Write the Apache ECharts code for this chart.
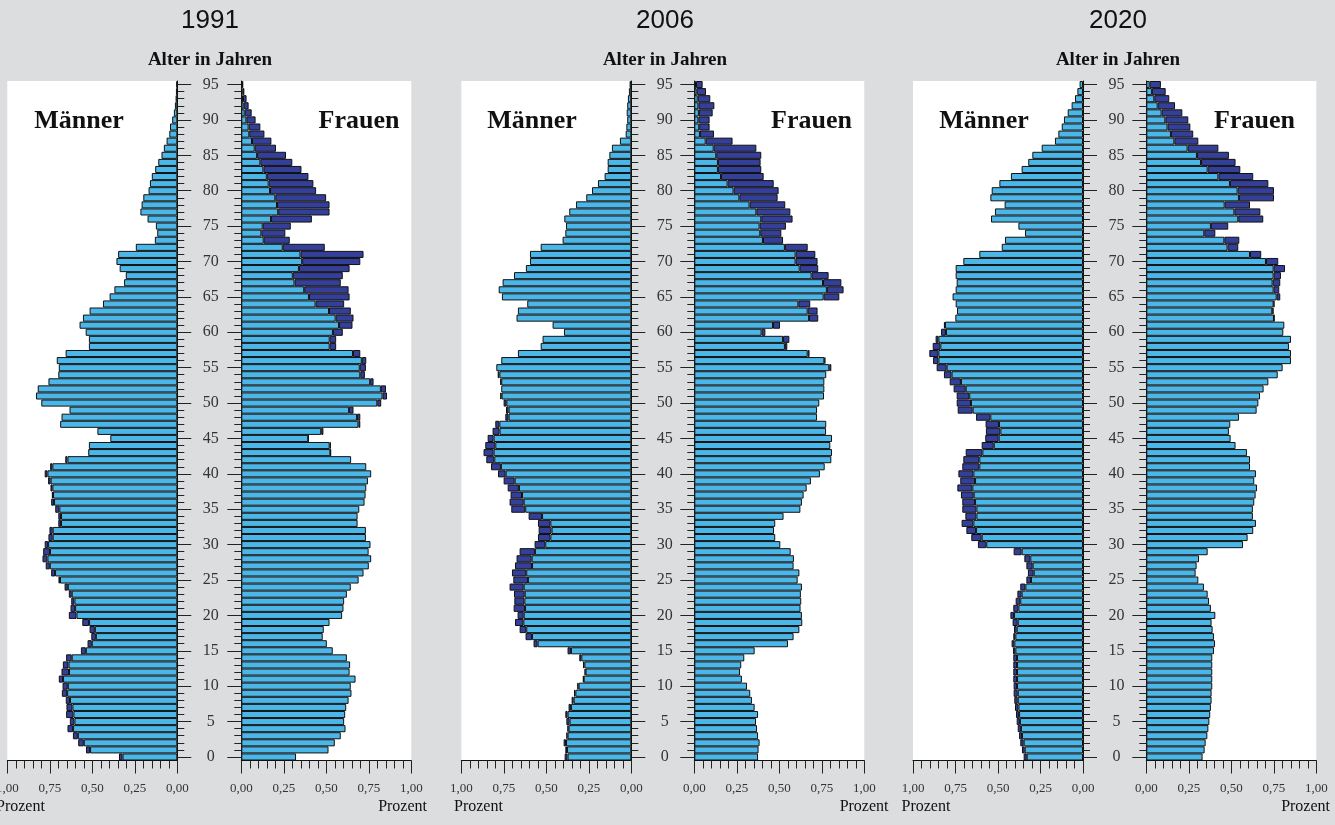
<!DOCTYPE html>
<html>
<head>
<meta charset="utf-8">
<title>Altersaufbau 1991, 2006, 2020</title>
<script src="https://cdn.jsdelivr.net/npm/echarts@6/dist/echarts.min.js"></script>
<style>
  html, body { margin: 0; padding: 0; background: #dcdddf; }
  #chart { width: 1335px; height: 825px; }
</style>
</head>
<body>
<div id="chart"></div>
<script>
// Population share by single year of age (0..95), in percent
const years = ['1991', '2006', '2020'];
const ages = Array.from({ length: 96 }, (_, i) => String(i));

const men1991 = [
  0.343, 0.537, 0.583, 0.614, 0.646, 0.632, 0.654, 0.652, 0.656, 0.679,
  0.675, 0.697, 0.681, 0.673, 0.654, 0.567, 0.528, 0.506, 0.516, 0.559,
  0.638, 0.628, 0.624, 0.638, 0.663, 0.699, 0.742, 0.774, 0.793, 0.789,
  0.780, 0.758, 0.752, 0.700, 0.700, 0.718, 0.742, 0.738, 0.746, 0.760,
  0.780, 0.748, 0.659, 0.524, 0.520, 0.394, 0.470, 0.689, 0.681, 0.634,
  0.800, 0.831, 0.821, 0.758, 0.700, 0.697, 0.709, 0.657, 0.520, 0.520,
  0.539, 0.575, 0.555, 0.516, 0.437, 0.398, 0.370, 0.313, 0.303, 0.339,
  0.358, 0.348, 0.244, 0.132, 0.118, 0.126, 0.175, 0.217, 0.210, 0.200,
  0.169, 0.161, 0.150, 0.130, 0.112, 0.093, 0.079, 0.063, 0.047, 0.043,
  0.030, 0.020, 0.014, 0.010, 0.008, 0.006
];
const women1991 = [
  0.322, 0.513, 0.550, 0.585, 0.613, 0.605, 0.611, 0.617, 0.631, 0.648,
  0.644, 0.672, 0.637, 0.640, 0.621, 0.538, 0.503, 0.479, 0.485, 0.519,
  0.593, 0.601, 0.605, 0.621, 0.644, 0.690, 0.719, 0.750, 0.764, 0.749,
  0.760, 0.733, 0.733, 0.684, 0.684, 0.694, 0.725, 0.731, 0.735, 0.745,
  0.764, 0.735, 0.646, 0.527, 0.527, 0.395, 0.483, 0.700, 0.700, 0.660,
  0.823, 0.857, 0.851, 0.778, 0.727, 0.733, 0.735, 0.700, 0.558, 0.558,
  0.597, 0.654, 0.660, 0.644, 0.605, 0.637, 0.631, 0.585, 0.597, 0.637,
  0.700, 0.719, 0.491, 0.285, 0.259, 0.291, 0.415, 0.519, 0.519, 0.499,
  0.440, 0.424, 0.395, 0.354, 0.300, 0.263, 0.204, 0.177, 0.136, 0.112,
  0.084, 0.061, 0.043, 0.031, 0.018, 0.010
];
const men2006 = [
  0.392, 0.388, 0.398, 0.382, 0.376, 0.382, 0.388, 0.369, 0.351, 0.337,
  0.318, 0.284, 0.275, 0.284, 0.306, 0.375, 0.575, 0.622, 0.657, 0.684,
  0.669, 0.692, 0.688, 0.690, 0.716, 0.694, 0.702, 0.684, 0.675, 0.657,
  0.569, 0.549, 0.545, 0.549, 0.604, 0.706, 0.716, 0.710, 0.727, 0.751,
  0.784, 0.825, 0.853, 0.869, 0.859, 0.845, 0.816, 0.800, 0.741, 0.737,
  0.751, 0.771, 0.765, 0.771, 0.786, 0.794, 0.765, 0.667, 0.533, 0.522,
  0.396, 0.463, 0.675, 0.667, 0.612, 0.761, 0.780, 0.757, 0.690, 0.620,
  0.596, 0.596, 0.533, 0.404, 0.388, 0.384, 0.394, 0.365, 0.325, 0.265,
  0.231, 0.196, 0.157, 0.139, 0.139, 0.129, 0.114, 0.067, 0.033, 0.029,
  0.024, 0.027, 0.024, 0.020, 0.014, 0.010
];
const women2006 = [
  0.375, 0.378, 0.384, 0.375, 0.369, 0.363, 0.375, 0.355, 0.339, 0.329,
  0.310, 0.280, 0.269, 0.276, 0.294, 0.355, 0.551, 0.584, 0.618, 0.635,
  0.633, 0.625, 0.629, 0.627, 0.633, 0.608, 0.618, 0.584, 0.586, 0.567,
  0.506, 0.476, 0.469, 0.476, 0.525, 0.624, 0.633, 0.643, 0.661, 0.686,
  0.739, 0.767, 0.806, 0.810, 0.800, 0.810, 0.775, 0.776, 0.722, 0.722,
  0.735, 0.763, 0.765, 0.765, 0.776, 0.806, 0.771, 0.678, 0.547, 0.559,
  0.418, 0.504, 0.729, 0.725, 0.682, 0.853, 0.878, 0.865, 0.790, 0.729,
  0.725, 0.712, 0.667, 0.522, 0.512, 0.539, 0.578, 0.565, 0.535, 0.490,
  0.496, 0.467, 0.408, 0.394, 0.390, 0.394, 0.365, 0.225, 0.116, 0.090,
  0.090, 0.108, 0.118, 0.094, 0.069, 0.049
];
const men2020 = [
  0.349, 0.359, 0.369, 0.376, 0.384, 0.390, 0.394, 0.400, 0.404, 0.408,
  0.408, 0.410, 0.410, 0.410, 0.410, 0.412, 0.420, 0.410, 0.406, 0.414,
  0.427, 0.410, 0.396, 0.386, 0.369, 0.333, 0.324, 0.333, 0.345, 0.408,
  0.618, 0.657, 0.686, 0.714, 0.692, 0.710, 0.710, 0.718, 0.739, 0.722,
  0.733, 0.710, 0.704, 0.690, 0.596, 0.575, 0.571, 0.573, 0.629, 0.737,
  0.743, 0.743, 0.761, 0.784, 0.818, 0.861, 0.882, 0.904, 0.884, 0.867,
  0.835, 0.818, 0.751, 0.741, 0.749, 0.767, 0.749, 0.743, 0.749, 0.749,
  0.704, 0.610, 0.478, 0.459, 0.341, 0.380, 0.541, 0.518, 0.461, 0.545,
  0.537, 0.492, 0.424, 0.361, 0.322, 0.298, 0.243, 0.165, 0.145, 0.125,
  0.112, 0.090, 0.067, 0.047, 0.033, 0.020
];
const women2020 = [
  0.331, 0.343, 0.349, 0.359, 0.365, 0.371, 0.376, 0.380, 0.384, 0.384,
  0.388, 0.388, 0.388, 0.388, 0.388, 0.398, 0.404, 0.398, 0.390, 0.384,
  0.406, 0.380, 0.369, 0.361, 0.339, 0.306, 0.290, 0.296, 0.310, 0.361,
  0.569, 0.596, 0.629, 0.645, 0.627, 0.627, 0.635, 0.643, 0.651, 0.635,
  0.645, 0.610, 0.610, 0.592, 0.525, 0.496, 0.486, 0.494, 0.545, 0.649,
  0.659, 0.669, 0.690, 0.718, 0.773, 0.802, 0.851, 0.851, 0.839, 0.851,
  0.806, 0.812, 0.753, 0.749, 0.753, 0.788, 0.782, 0.788, 0.792, 0.816,
  0.776, 0.676, 0.541, 0.547, 0.406, 0.482, 0.688, 0.671, 0.610, 0.751,
  0.751, 0.718, 0.629, 0.553, 0.525, 0.486, 0.424, 0.306, 0.276, 0.259,
  0.247, 0.212, 0.169, 0.135, 0.114, 0.086
];

const menByYear = [men1991, men2006, men2020];
const womenByYear = [women1991, women2006, women2020];

// Layout of the three pyramids
const MEN_LEFT = [7.3, 461.3, 913];
const WOMEN_LEFT = [241.3, 694.3, 1146.3];
const PANEL_CENTER = [210, 665, 1118];
const MAENNER_X = [79, 532, 984];
const FRAUEN_X = [359, 811.5, 1254.5];
const PROZENT_LEFT_X = [-4, 454, 901.5];
const PROZENT_RIGHT_X = [427, 888.5, 1330];
const PLOT_TOP = 81;
const PLOT_H = 679.5;
const PLOT_W = 170;

const LIGHT = '#4bb7e8';
const DARK = '#333f99';
const EDGE = '#111111';
const SERIF = '"Liberation Serif", "DejaVu Serif", serif';

const fmtPct = v => v.toFixed(2).replace('.', ',');

const grid = [], xAxis = [], yAxis = [], series = [], graphic = [];

for (let p = 0; p < 3; p++) {
  const men = menByYear[p], women = womenByYear[p];
  const common = ages.map((_, i) => Math.min(men[i], women[i]));
  const sides = [
    { left: MEN_LEFT[p], own: men, isMen: true },
    { left: WOMEN_LEFT[p], own: women, isMen: false }
  ];
  sides.forEach((side, s) => {
    const g = p * 2 + s;
    grid.push({
      left: side.left, top: PLOT_TOP, width: PLOT_W, height: PLOT_H,
      outerBoundsMode: 'none', containLabel: false,
      show: true, backgroundColor: '#ffffff', borderWidth: 0
    });
    xAxis.push({
      gridIndex: g, type: 'value', min: 0, max: 1, interval: 0.25,
      inverse: side.isMen, position: 'bottom',
      axisLine: { show: true, lineStyle: { color: '#111', width: 1 } },
      axisTick: { show: true, length: 13, lineStyle: { color: '#222', width: 1 } },
      minorTick: { show: true, splitNumber: 5, length: 8, lineStyle: { color: '#222', width: 1 } },
      splitLine: { show: false }, minorSplitLine: { show: false },
      axisLabel: { margin: 22, formatter: fmtPct, fontFamily: SERIF, fontSize: 13, color: '#333' }
    });
    const pos = side.isMen ? 'right' : 'left';
    // major ticks every 5 years (with labels on the men's side)
    yAxis.push({
      gridIndex: g, type: 'category', data: ages, position: pos,
      axisLine: { show: true, lineStyle: { color: '#111', width: 1 } },
      axisTick: { show: true, alignWithLabel: true, interval: 4, length: 14, lineStyle: { color: '#222', width: 1 } },
      axisLabel: {
        show: side.isMen, interval: 4, align: 'center', margin: 33.5,
        fontFamily: SERIF, fontSize: 16, color: '#333'
      },
      splitLine: { show: false }
    });
    // minor ticks every year
    yAxis.push({
      gridIndex: g, type: 'category', data: ages, position: pos,
      axisLine: { show: false },
      axisTick: { show: true, alignWithLabel: true, interval: 0, length: 7, lineStyle: { color: '#222', width: 1 } },
      axisLabel: { show: false },
      splitLine: { show: false }
    });
    const excess = ages.map((_, i) => {
      const d = side.own[i] - common[i];
      return d > 0.0005 ? +d.toFixed(3) : '-';
    });
    const barBase = {
      type: 'bar', xAxisIndex: g, yAxisIndex: 2 * g, stack: 'g' + g,
      barCategoryGap: '0%', animation: false, silent: true
    };
    series.push(Object.assign({}, barBase, {
      name: years[p] + (side.isMen ? ' Männer' : ' Frauen'),
      data: common,
      itemStyle: { color: LIGHT, borderColor: EDGE, borderWidth: 1 }
    }));
    series.push(Object.assign({}, barBase, {
      name: years[p] + (side.isMen ? ' Männer Überschuss' : ' Frauen Überschuss'),
      data: excess,
      itemStyle: { color: DARK, borderColor: EDGE, borderWidth: 1 }
    }));
  });

  const txt = (text, x, y, font, align) => ({
    type: 'text', silent: true, z: 100,
    style: { text, x, y, font, fill: '#111', textAlign: align || 'center', textVerticalAlign: 'middle' }
  });
  graphic.push(txt(years[p], PANEL_CENTER[p], 21, '26px "Liberation Sans", Arial, sans-serif'));
  graphic.push(txt('Alter in Jahren', PANEL_CENTER[p], 60, 'bold 19px ' + SERIF));
  graphic.push(txt('Männer', MAENNER_X[p], 121, 'bold 26px ' + SERIF));
  graphic.push(txt('Frauen', FRAUEN_X[p], 121, 'bold 26px ' + SERIF));
  graphic.push(txt('Prozent', PROZENT_LEFT_X[p], 807, '16px ' + SERIF, 'left'));
  graphic.push(txt('Prozent', PROZENT_RIGHT_X[p], 807, '16px ' + SERIF, 'right'));
}

const chart = echarts.init(document.getElementById('chart'), null, { renderer: 'canvas' });
chart.setOption({
  backgroundColor: '#dcdddf',
  animation: false,
  grid, xAxis, yAxis, series, graphic
});
</script>
</body>
</html>
